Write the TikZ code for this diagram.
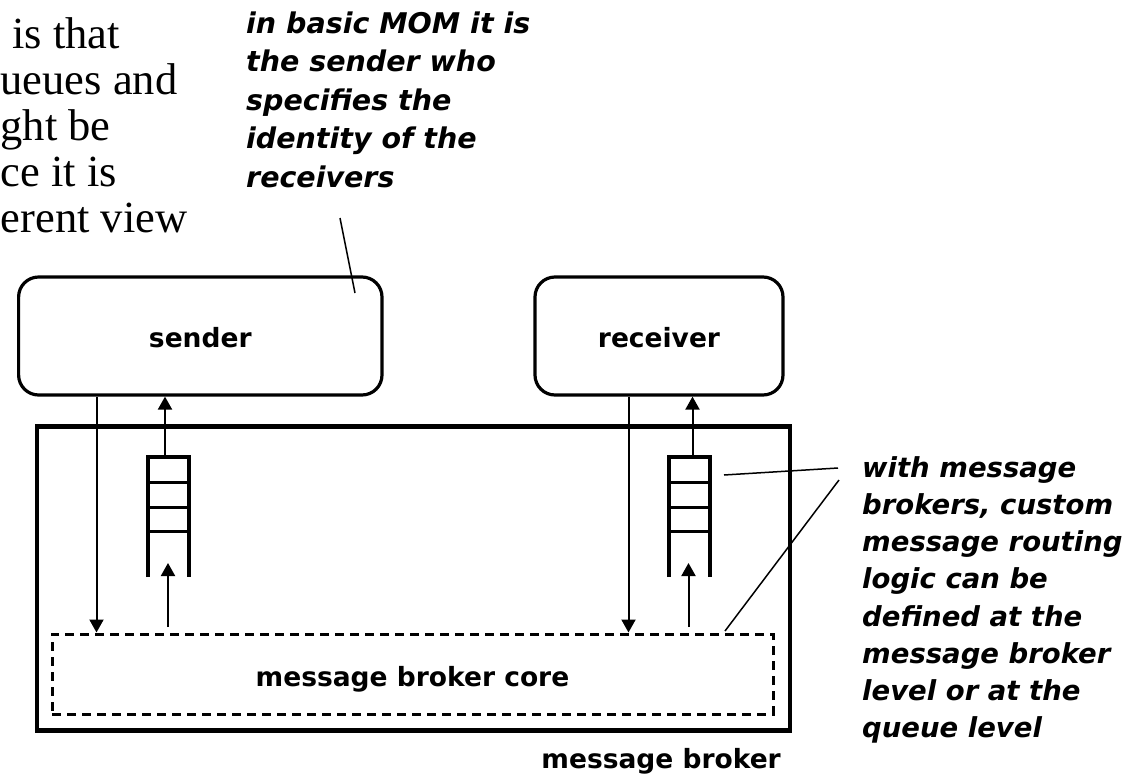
\documentclass[tikz,border=0pt]{standalone}
\usepackage{fontspec}
\usetikzlibrary{arrows.meta}
\newfontfamily\tmsfont{Liberation Serif}
\newfontfamily\lblfont{DejaVu Sans}[BoldFont={DejaVu Sans Bold},BoldItalicFont={DejaVu Sans Bold Oblique}]
\tikzset{
  tms/.style={anchor=base west, inner sep=0pt, font=\tmsfont\fontsize{44.5}{46}\selectfont},
  procbox/.style={draw, line width=3.2pt, rounded corners=20pt, inner sep=0pt,
    text height=22pt, text depth=0pt, font=\lblfont\bfseries\fontsize{26.5}{30}\selectfont},
  lbl/.style={inner sep=0pt, font=\lblfont\bfseries\fontsize{26.5}{30}\selectfont},
  ann/.style={anchor=north west, inner sep=0pt, align=left},
  arr/.style={line width=2pt, -{Triangle[length=13pt,width=14pt]}},
  qside/.style={line width=4.5pt, line join=miter},
  qdiv/.style={line width=3pt},
  callout/.style={line width=1.5pt},
}
\begin{document}
\begin{tikzpicture}[x=1pt,y=-1pt]
\useasboundingbox (0,0) rectangle (1133,774);

% text at the left edge
\node[tms] (t1) at (12,48) {is that};
\node[tms] (t2) at (0.5,94) {ueues and};
\node[tms] (t3) at (0.5,140) {ght be};
\node[tms] (t4) at (0.5,186) {ce it is};
\node[tms] (t5) at (0.5,232) {erent view};

% annotation 1
\node[ann, font=\lblfont\bfseries\itshape\fontsize{28.5}{38.5}\selectfont] (a1) at (246,6.05)
  {\strut in basic MOM it is\\the sender who\\specifies the\\identity of the\\receivers};

% annotation 2
\node[ann, font=\lblfont\bfseries\itshape\fontsize{27.5}{37.2}\selectfont] (a2) at (862,450.96)
  {\strut with message\\brokers, custom\\message routing\\logic can be\\defined at the\\message broker\\level or at the\\queue level};

% sender and receiver
\node[procbox, minimum width=363.4pt, minimum height=118pt] (s) at (200.3,336) {sender};
\node[procbox, minimum width=248pt, minimum height=118pt] (r) at (659,336) {receiver};

% message broker
\node[draw, line width=4.5pt, minimum width=753pt, minimum height=304pt, inner sep=0pt] (mb) at (413.5,578.5) {};
\node[lbl, anchor=base east] (mbl) at (781,768) {message broker};

% core
\node[draw, line width=3pt, dash pattern=on 9pt off 6pt, minimum width=721pt, minimum height=80pt,
      inner sep=0pt, text height=24pt, text depth=0pt,
      font=\lblfont\bfseries\fontsize{26.5}{30}\selectfont] (core) at (412.5,674) {message broker core};

% queues
\foreach \qx/\qn in {148/qL, 669/qR}{
  \draw[qside] (\qx,577) -- (\qx,457) -- (\qx+41,457) -- (\qx+41,577);
  \foreach \qy in {482,507,531}{
    \draw[qdiv] (\qx,\qy) -- (\qx+41,\qy);
  }
}

% coordinates for connectors
\coordinate (sdx) at (96.5,0);
\coordinate (rdx) at (628.5,0);
\coordinate (qLtop) at (165,457);
\coordinate (qRtop) at (692.5,457);
\coordinate (qLin) at (168,627);
\coordinate (qLtip) at (168,563);
\coordinate (qRin) at (688.5,627);
\coordinate (qRtip) at (688.5,563);

% arrows
\draw[arr] (s.south -| sdx) -- (core.north -| sdx);
\draw[arr] (r.south -| rdx) -- (core.north -| rdx);
\draw[arr] (qLtop) -- (s.south -| qLtop);
\draw[arr] (qRtop) -- (r.south -| qRtop);
\draw[arr] (qLin) -- (qLtip);
\draw[arr] (qRin) -- (qRtip);

% callout lines
\coordinate (c1a) at (340,218);
\coordinate (c1b) at (355,293);
\draw[callout] (c1a) -- (c1b);
\coordinate (c2a) at (838,468);
\coordinate (c2b) at (724,475);
\draw[callout] (c2a) -- (c2b);
\coordinate (c3a) at (839,480);
\coordinate (c3b) at (725,631);
\draw[callout] (c3a) -- (c3b);
\end{tikzpicture}
\end{document}
